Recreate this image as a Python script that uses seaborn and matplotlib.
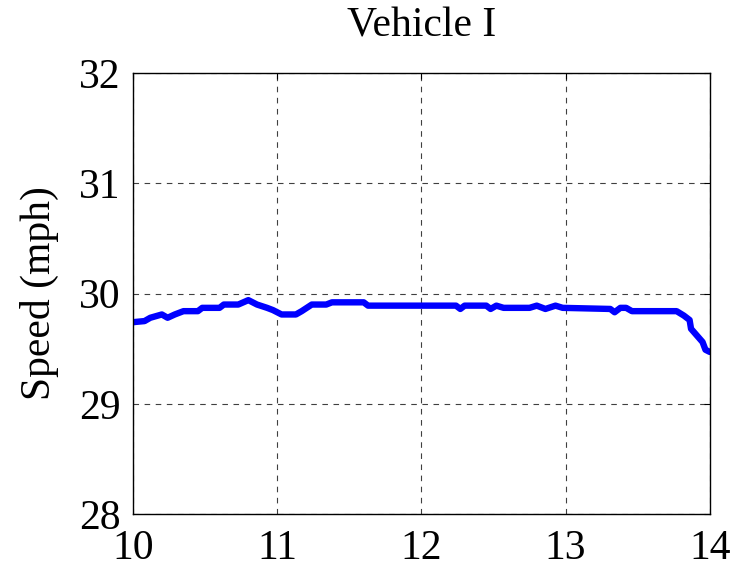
import pandas as pd
import matplotlib
matplotlib.use('Agg')
import matplotlib.pyplot as plt
import seaborn as sns

# Speed trace
time = [10.00, 10.08, 10.12, 10.20, 10.24, 10.29, 10.35, 10.45, 10.48, 10.60,
        10.63, 10.73, 10.80, 10.86, 10.93, 10.97, 11.03, 11.13, 11.17, 11.24,
        11.34, 11.38, 11.60, 11.63, 12.00, 12.24, 12.27, 12.30, 12.39, 12.45,
        12.48, 12.52, 12.57, 12.75, 12.80, 12.86, 12.93, 12.98, 13.31, 13.34,
        13.38, 13.42, 13.46, 13.77, 13.82, 13.86, 13.87, 13.91, 13.95, 13.97,
        14.00]
speed = [29.74, 29.75, 29.78, 29.81, 29.78, 29.81, 29.84, 29.84, 29.87, 29.87,
         29.90, 29.90, 29.94, 29.90, 29.87, 29.85, 29.81, 29.81, 29.84, 29.90,
         29.90, 29.92, 29.92, 29.89, 29.89, 29.89, 29.86, 29.89, 29.89, 29.89,
         29.86, 29.89, 29.87, 29.87, 29.89, 29.86, 29.89, 29.87, 29.86, 29.83,
         29.87, 29.87, 29.84, 29.84, 29.80, 29.76, 29.68, 29.62, 29.56, 29.49,
         29.47]

df = pd.DataFrame({'Time': time, 'Speed': speed})

sns.set_style('white')
plt.rcParams['font.family'] = ['Liberation Serif', 'DejaVu Serif']
plt.rcParams['text.color'] = 'black'

fig = plt.figure(figsize=(7.34, 5.68), dpi=100)
ax = fig.add_axes([0.1812, 0.095, 0.7858, 0.7765])

sns.lineplot(data=df, x='Time', y='Speed', color='#0000ff', linewidth=4.6,
             solid_capstyle='round', solid_joinstyle='round', ax=ax)

ax.set_xlim(10, 14)
ax.set_ylim(28, 32)
ax.set_xticks([10, 11, 12, 13, 14])
ax.set_yticks([28, 29, 30, 31, 32])
ax.grid(True, linestyle=(0, (5, 5)), color='#404040', linewidth=0.8)
ax.tick_params(axis='both', direction='in', length=4, labelsize=30, width=0.8,
               top=True, right=True, colors='black')
ax.tick_params(axis='y', pad=9)
ax.tick_params(axis='x', pad=11)
for s in ax.spines.values():
    s.set_color('black')
    s.set_linewidth(1.0)
ax.set_xlabel('')
ax.set_ylabel('Speed (mph)', fontsize=30, labelpad=14, color='black')
ax.set_title('Vehicle I', fontsize=30, pad=26, color='black')

fig.savefig('out.png', dpi=100)
